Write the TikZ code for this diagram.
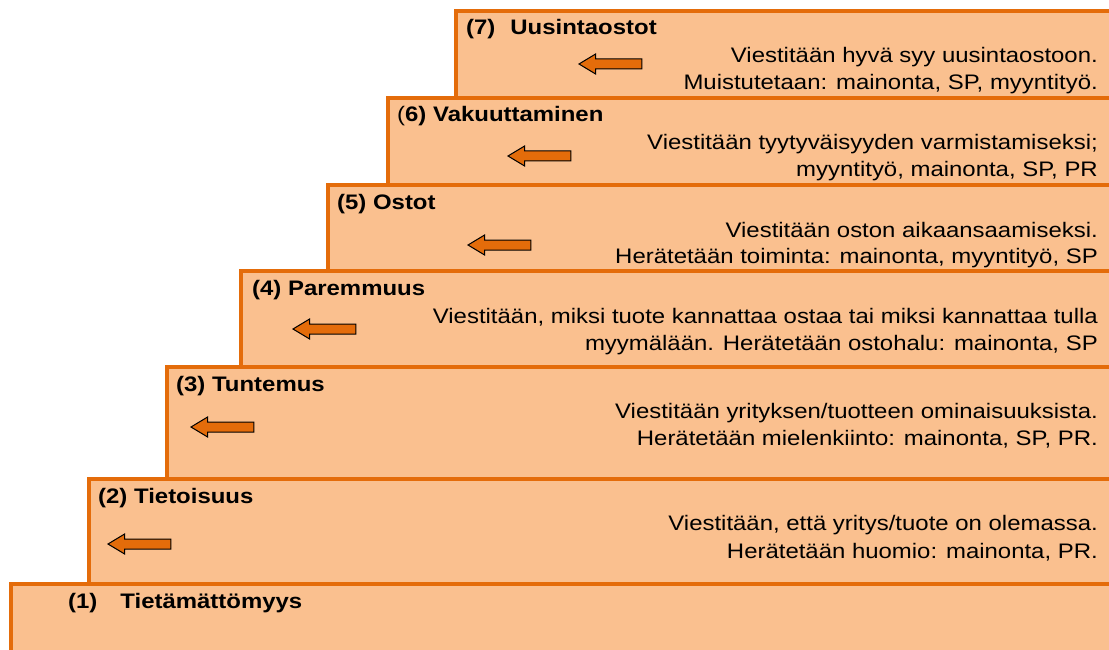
\documentclass[tikz,border=0pt]{standalone}
\usepackage{fontspec}
\setmainfont[FakeStretch=1.14]{Liberation Sans}
\usetikzlibrary{shapes.arrows}

\definecolor{stairline}{HTML}{E46C0A}
\definecolor{stairfill}{HTML}{FAC08F}

\tikzset{
  stair/.style={draw=stairline, fill=stairfill, line width=3.8pt},
  stairtitle/.style={anchor=base west, inner sep=0pt, font=\fontsize{21pt}{27pt}\selectfont\bfseries},
  stairtext/.style={anchor=base east, inner sep=0pt, font=\fontsize{21pt}{27pt}\selectfont},
  backarrow/.style={single arrow, shape border rotate=180, draw=black, line width=1pt,
    fill=stairline, minimum height=63pt, minimum width=19pt, inner xsep=0pt, inner ysep=4.5pt,
    single arrow head extend=5pt, single arrow tip angle=62, anchor=tip}
}

\begin{document}
\begin{tikzpicture}[x=1pt, y=-1pt]
    \clip (0,0) rectangle (1109,650);

    % steps, highest first so that each lower one covers the one above
    \draw[stair] (456,11) rectangle (1140,690);
    \draw[stair] (388,98) rectangle (1140,690);
    \draw[stair] (328,185) rectangle (1140,690);
    \draw[stair] (241,271) rectangle (1140,690);
    \draw[stair] (167,367) rectangle (1140,690);
    \draw[stair] (89,479) rectangle (1140,690);
    \draw[stair] (11,584) rectangle (1140,690);

    % titles
    \node[stairtitle] (t7) at (466,35) {(7)\hspace{15pt}Uusintaostot};
    \node[stairtitle] (t6) at (397,122) {{\mdseries(}6) Vakuuttaminen};
    \node[stairtitle] (t5) at (337,209) {(5) Ostot};
    \node[stairtitle] (t4) at (252,295) {(4) Paremmuus};
    \node[stairtitle] (t3) at (176,391) {(3) Tuntemus};
    \node[stairtitle] (t2) at (98,503) {(2) Tietoisuus};
    \node[stairtitle] (t1) at (68,608) {(1)\hspace{23pt}Tietämättömyys};

    % texts
    \node[stairtext] (v7a) at (1098,63) {Viestitään hyvä syy uusintaostoon.};
    \node[stairtext] (v7b) at (1098,90) {Muistutetaan: mainonta, SP, myyntityö.};
    \node[stairtext] (v6a) at (1098,150) {Viestitään tyytyväisyyden varmistamiseksi;};
    \node[stairtext] (v6b) at (1098,177) {myyntityö, mainonta, SP, PR};
    \node[stairtext] (v5a) at (1098,237) {Viestitään oston aikaansaamiseksi.};
    \node[stairtext] (v5b) at (1098,263) {Herätetään toiminta: mainonta, myyntityö, SP};
    \node[stairtext] (v4a) at (1098,323) {Viestitään, miksi tuote kannattaa ostaa tai miksi kannattaa tulla};
    \node[stairtext] (v4b) at (1098,350) {myymälään. Herätetään ostohalu: mainonta, SP};
    \node[stairtext] (v3a) at (1098,418) {Viestitään yrityksen/tuotteen ominaisuuksista.};
    \node[stairtext] (v3b) at (1098,445) {Herätetään mielenkiinto: mainonta, SP, PR.};
    \node[stairtext] (v2a) at (1098,530) {Viestitään, että yritys/tuote on olemassa.};
    \node[stairtext] (v2b) at (1098,558) {Herätetään huomio: mainonta, PR.};

    % arrows
    \node[backarrow] (a7) at (578,64) {};
    \node[backarrow] (a6) at (507,156) {};
    \node[backarrow] (a5) at (467,245) {};
    \node[backarrow] (a4) at (292,329) {};
    \node[backarrow] (a3) at (190,427) {};
    \node[backarrow] (a2) at (107,544) {};
\end{tikzpicture}
\end{document}
